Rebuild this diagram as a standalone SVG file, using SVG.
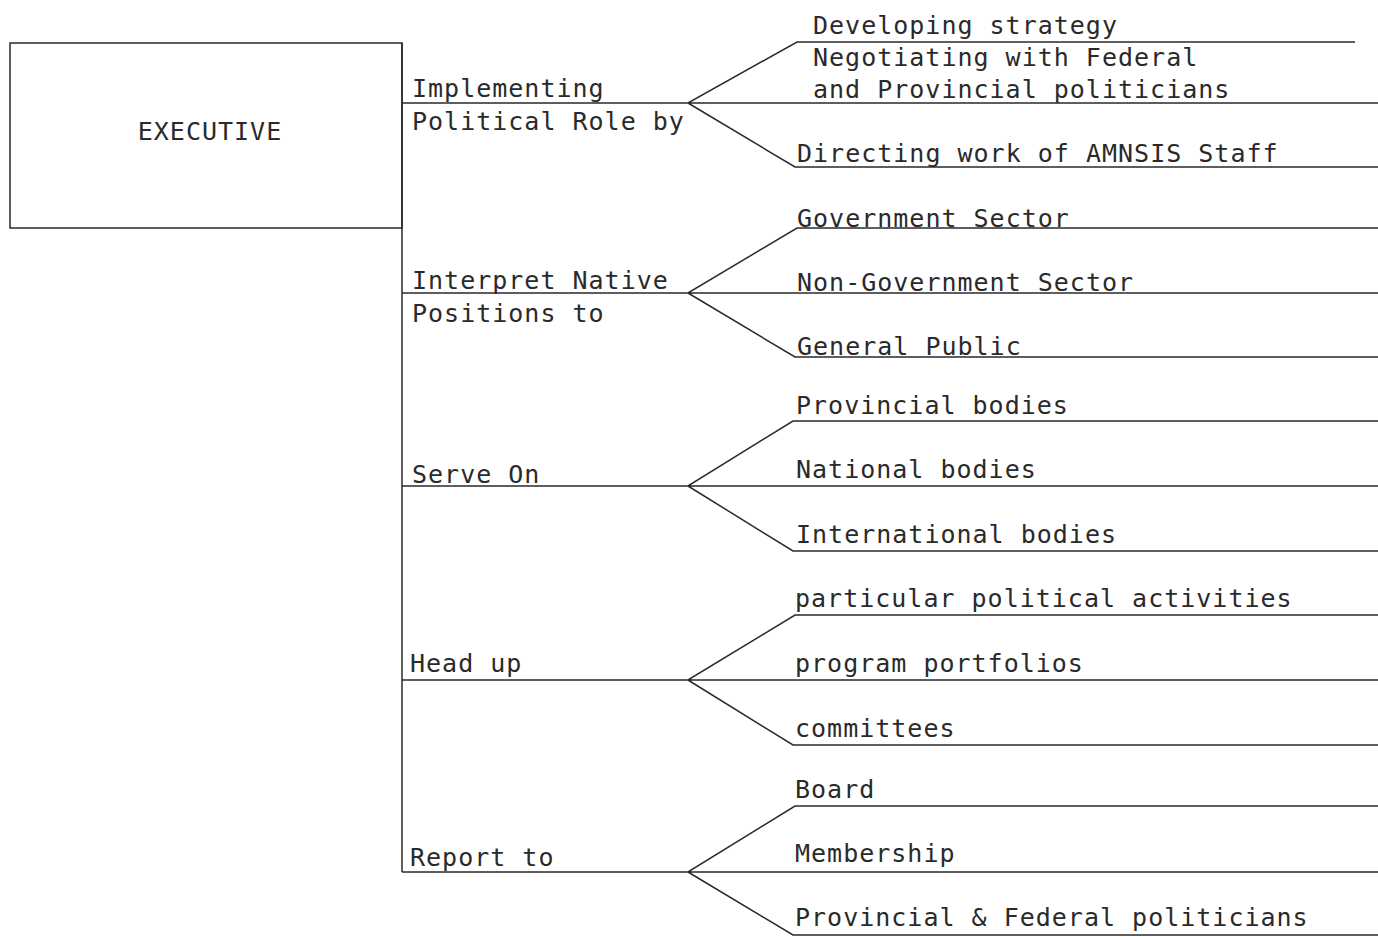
<svg xmlns="http://www.w3.org/2000/svg" width="1378" height="937" viewBox="0 0 1378 937">
<style>
text{font-family:"DejaVu Sans Mono","Liberation Mono",monospace;font-size:25px;letter-spacing:1px;fill:#2a2a2a}
.ln{stroke:#2a2a2a;stroke-width:1.5;fill:none}
</style>
<rect width="1378" height="937" fill="#fff"/>
<g id="executive">
<rect x="10" y="43" width="392" height="185" class="ln"/>
<text x="210" y="140" text-anchor="middle" font-size="22" letter-spacing="3">EXECUTIVE</text>
</g>
<g id="connectors">
<line class="ln" x1="402" y1="43" x2="402" y2="872"/>
<path class="ln" d="M402,103 H688 L797,42 H1355 M688,103 H1378 M688,103 L795,167 H1378"/>
<path class="ln" d="M402,293 H688 L797,228 H1378 M688,293 H1378 M688,293 L795,357 H1378"/>
<path class="ln" d="M402,486 H688 L793,421 H1378 M688,486 H1378 M688,486 L793,551 H1378"/>
<path class="ln" d="M402,680 H688 L795,615 H1378 M688,680 H1378 M688,680 L793,745 H1378"/>
<path class="ln" d="M402,872 H688 L795,806 H1378 M688,872 H1378 M688,872 L793,935 H1378"/>
</g>
<g id="n1">
<text x="412" y="97">Implementing</text>
<text x="412" y="130">Political Role by</text>
</g>
<g id="n1a"><text x="813" y="34">Developing strategy</text></g>
<g id="n1b"><text x="813" y="66">Negotiating with Federal</text><text x="813" y="98">and Provincial politicians</text></g>
<g id="n1c"><text x="797" y="162">Directing work of AMNSIS Staff</text></g>
<g id="n2">
<text x="412" y="289">Interpret Native</text>
<text x="412" y="322">Positions to</text>
</g>
<g id="n2a"><text x="797" y="227">Government Sector</text></g>
<g id="n2b"><text x="797" y="291">Non-Government Sector</text></g>
<g id="n2c"><text x="797" y="355">General Public</text></g>
<g id="n3"><text x="412" y="483">Serve On</text></g>
<g id="n3a"><text x="796" y="414">Provincial bodies</text></g>
<g id="n3b"><text x="796" y="478">National bodies</text></g>
<g id="n3c"><text x="796" y="543">International bodies</text></g>
<g id="n4"><text x="410" y="672">Head up</text></g>
<g id="n4a"><text x="795" y="607">particular political activities</text></g>
<g id="n4b"><text x="795" y="672">program portfolios</text></g>
<g id="n4c"><text x="795" y="737">committees</text></g>
<g id="n5"><text x="410" y="866">Report to</text></g>
<g id="n5a"><text x="795" y="798">Board</text></g>
<g id="n5b"><text x="795" y="862">Membership</text></g>
<g id="n5c"><text x="795" y="926">Provincial &amp; Federal politicians</text></g>
</svg>
